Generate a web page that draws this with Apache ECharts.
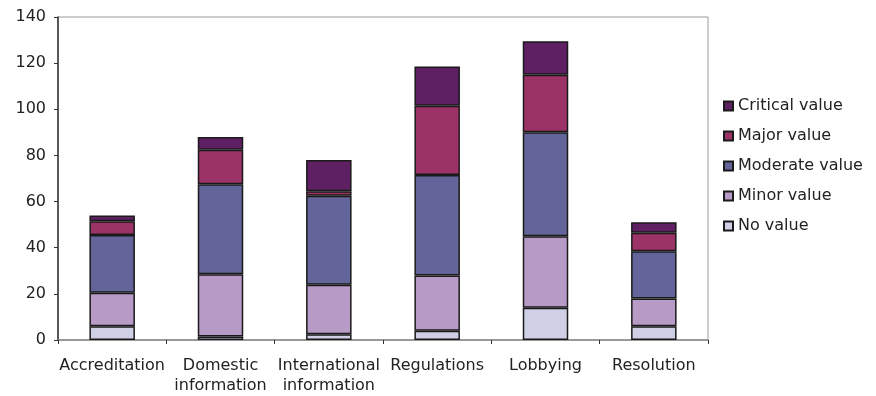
<!DOCTYPE html>
<html>
<head>
<meta charset="utf-8">
<script src="https://cdn.jsdelivr.net/npm/echarts@6/dist/echarts.min.js"></script>
<style>
  html, body { margin: 0; padding: 0; background: #fff; }
  #chart { width: 876px; height: 396px; }
</style>
</head>
<body>
<div id="chart"></div>
<script>
  // categories along the x axis
  var categories = ['Accreditation', 'Domestic\ninformation', 'International\ninformation', 'Regulations', 'Lobbying', 'Resolution']

  // stacked segments, bottom to top
  var noValue = [6, 1.5, 2.5, 4, 14, 6]
  var minorValue = [14.5, 27, 21.5, 24, 31, 12]
  var moderateValue = [25, 39, 38.5, 43.5, 45, 20.5]
  var majorValue = [6, 15, 2, 30, 25, 8]
  var criticalValue = [2.5, 5.5, 13.5, 17, 14.5, 4.5]

  var seriesNames = ['No value', 'Minor value', 'Moderate value', 'Major value', 'Critical value']
  var seriesData = [noValue, minorValue, moderateValue, majorValue, criticalValue]
  var colors = ['#cfcfe6', '#b89ac6', '#62649a', '#9b3366', '#5e1f63']

  var font = 'DejaVu Sans, Liberation Sans, sans-serif'

  var series = []
  for (var i = 0; i < seriesNames.length; i++) {
    series.push({
      name: seriesNames[i],
      type: 'bar',
      stack: 'total',
      barWidth: '42%',
      data: seriesData[i],
      itemStyle: {
        color: colors[i],
        borderColor: '#1a1a1a',
        borderWidth: 1.5
      }
    })
  }

  var myChart = echarts.init(document.getElementById('chart'))
  var option = {
    animation: false,
    textStyle: { fontFamily: font },
    grid: {
      left: 58,
      right: 168,
      top: 17,
      bottom: 55,
      show: true,
      borderColor: '#999',
      borderWidth: 1
    },
    legend: {
      orient: 'vertical',
      left: 718,
      top: 93,
      itemWidth: 9,
      itemHeight: 9,
      itemGap: 14,
      icon: 'rect',
      data: seriesNames.slice().reverse(),
      textStyle: { fontSize: 16, lineHeight: 16, color: '#222', fontFamily: font }
    },
    xAxis: {
      type: 'category',
      data: categories,
      axisLine: { lineStyle: { color: '#888', width: 1.5 } },
      axisTick: { show: true, length: 4, lineStyle: { color: '#333' } },
      axisLabel: { fontSize: 16, color: '#222', margin: 16, lineHeight: 20, interval: 0 }
    },
    yAxis: {
      type: 'value',
      min: 0,
      max: 140,
      interval: 20,
      splitLine: { show: false },
      axisLine: { show: true, lineStyle: { color: '#333', width: 1.5 } },
      axisTick: { show: true, length: 4, lineStyle: { color: '#333' } },
      axisLabel: { fontSize: 16, color: '#222', margin: 12 }
    },
    series: series
  }
  myChart.setOption(option)
</script>
</body>
</html>
